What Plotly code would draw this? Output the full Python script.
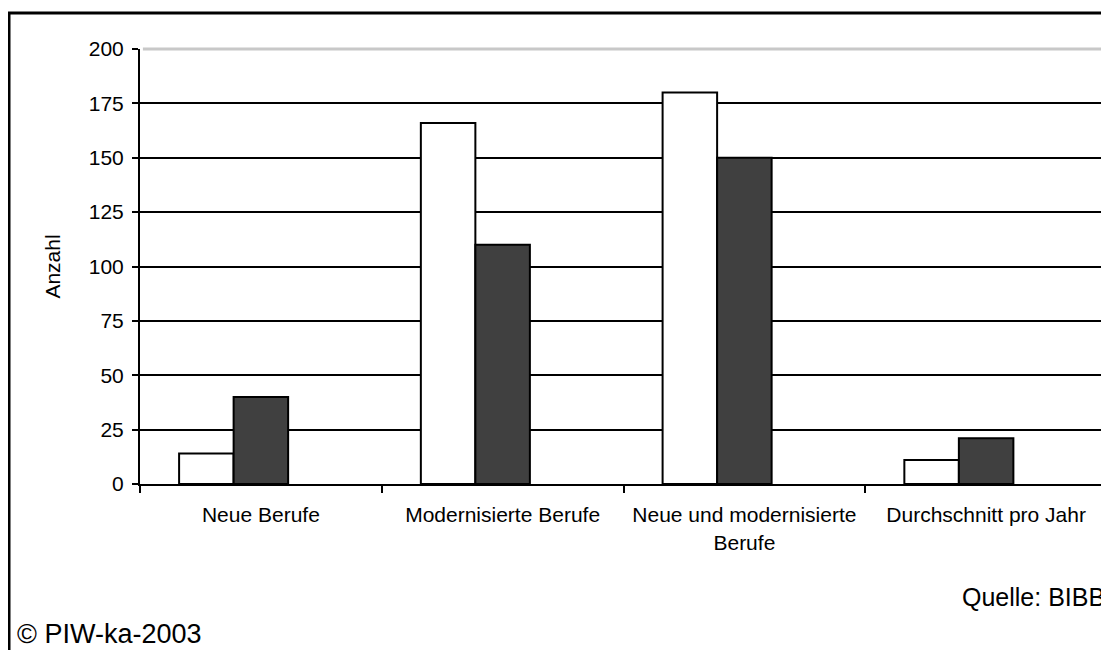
import plotly.graph_objects as go

categories = ["Neue Berufe", "Modernisierte Berufe", "Neue und modernisierte<br>Berufe", "Durchschnitt pro Jahr"]
series_a = [14, 166, 180, 11]   # white bars
series_b = [40, 110, 150, 21]   # dark bars
y_ticks = [0, 25, 50, 75, 100, 125, 150, 175, 200]

W, H = 1109, 650
OFF = 8  # page body margin
ML, MR, MT, MB = 132, 10, 41, 174
PW, PH = W - ML - MR, H - MT - MB
FONT = "Liberation Sans, Arial, Helvetica, sans-serif"

def px_x(p):
    return (p - OFF - ML) / PW

def px_y(p):
    return (H - MB - (p - OFF)) / PH

bar_w = 0.2255

fig = go.Figure()
fig.add_trace(go.Bar(
    x=categories, y=series_a, width=bar_w, offset=-1.5 * bar_w,
    marker=dict(color="white", line=dict(color="black", width=2)),
    showlegend=False,
))
fig.add_trace(go.Bar(
    x=categories, y=series_b, width=bar_w, offset=-0.5 * bar_w,
    marker=dict(color="#404040", line=dict(color="black", width=2)),
    showlegend=False,
))

fig.update_layout(
    width=W, height=H,
    margin=dict(l=ML, r=MR, t=MT, b=MB, autoexpand=False),
    paper_bgcolor="white", plot_bgcolor="white",
    font=dict(family=FONT, size=21, color="black"),
    barmode="overlay",
    xaxis=dict(
        type="category",
        range=[-0.5, len(categories) - 0.5],
        tickson="boundaries", ticks="outside", ticklen=7, tickwidth=2, tickcolor="black",
        showline=True, linecolor="black", linewidth=2,
        showgrid=False, zeroline=False, ticklabelstandoff=11,
        tickfont=dict(size=21),
    ),
    yaxis=dict(
        range=[0, 200], tickmode="array", tickvals=y_ticks,
        ticks="outside", ticklen=6, tickwidth=2, tickcolor="black",
        showline=True, linecolor="black", linewidth=2,
        showgrid=True, gridcolor="black", gridwidth=2,
        zeroline=False, ticklabelstandoff=4,
        tickfont=dict(size=21),
        title=dict(text="Anzahl", font=dict(size=21), standoff=22),
    ),
    shapes=[
        # light top grid line at 200
        dict(type="line", xref="paper", yref="paper", x0=0.003, x1=0.998, y0=1, y1=1,
             line=dict(color="#c8c8c8", width=3), layer="above"),
        # outer frame (partially cut off)
        dict(type="rect", xref="paper", yref="paper",
             x0=px_x(9), x1=1.2, y0=-0.6, y1=px_y(13),
             line=dict(color="black", width=3), fillcolor="rgba(0,0,0,0)", layer="above"),
    ],
    annotations=[
        dict(text="Quelle: BIBB", xref="paper", yref="paper", x=px_x(1107), y=px_y(597),
             xanchor="right", yanchor="middle", showarrow=False, font=dict(size=25)),
        dict(text="© PIW-ka-2003", xref="paper", yref="paper", x=px_x(15), y=px_y(634),
             xanchor="left", yanchor="middle", showarrow=False, font=dict(size=27)),
    ],
)

fig.write_html("out.html")
